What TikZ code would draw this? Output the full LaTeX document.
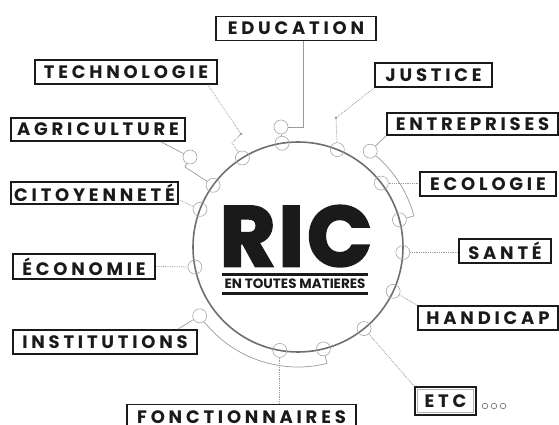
\documentclass[tikz,border=0pt]{standalone}
\usepackage{fontspec}
\setmainfont{Poppins}
\newfontfamily\boxfont[LetterSpace=21]{Poppins}
\newfontfamily\ricfont[LetterSpace=4,BoldFeatures={FakeBold=3}]{Poppins}
\usetikzlibrary{calc,positioning}
\definecolor{ink}{HTML}{1A1A1A}
\definecolor{ringgrey}{HTML}{6F6F6F}
\definecolor{linkgrey}{HTML}{9A9A9A}

\begin{document}
\begin{tikzpicture}[x=1pt,y=1pt]

\tikzset{topicbox/.style={draw=ink,line width=1.6pt,inner sep=0pt,minimum height=24pt,font=\boxfont\bfseries\fontsize{18}{18}\selectfont,text=ink},
ringnode/.style={shape=circle,draw=black!35,line width=0.6pt,inner sep=0pt,minimum size=14pt},
dotnode/.style={shape=circle,fill=linkgrey,inner sep=0pt,minimum size=3pt},
link/.style={draw=linkgrey,line width=0.7pt},
dotlink/.style={draw=linkgrey,line width=0.8pt,densely dotted}}

\useasboundingbox (0,0) rectangle (559,425);

% Ring and title
\node[shape=circle,draw=ringgrey,line width=1.6pt,minimum size=210pt,inner sep=0pt] (ring) at (298,178) {};
\node[anchor=base,font=\ricfont\bfseries\fontsize{85}{85}\selectfont,text=ink,inner sep=0pt] (ric) at (296,159) {RIC};
\node[anchor=base,font=\bfseries\fontsize{13.5}{13.5}\selectfont,text=ink,inner sep=0pt] (sub) at (295,136.5) {EN TOUTES MATIERES};
\draw[ink,line width=3pt] (222,150) -- (368,150);
\draw[ink,line width=3pt] (222,131) -- (368,131);

% circles on the ring
\foreach \n/\a in {Edu/98.7,Tech/122,Agri/144,Cito/159,Eco/191,Fonc/260,Inst/284,Etc/309,Handi/335,Sante/357,Entr/15,Ecol/37.5,Just/68}
  \node[ringnode] (c\n) at ($(ring)+(\a:105)$) {};

% circles off the ring
\node[ringnode] (offEdu) at (281,298) {};
\node[ringnode] (offAgri) at (190,268) {};
\node[ringnode] (offInst) at ($(ring)+(215:120)$) {};
\node[ringnode] (offEntr) at ($(ring)+(53:120)$) {};

% bend points
\node[dotnode] (dotTech) at (241,291) {};
\node[dotnode] (dotJust) at (336,307) {};
\coordinate (bendTech) at (232,282);
\coordinate (bendAgri) at (185,258);

% Boxes
\node[topicbox,minimum width=160pt] (edu) at (296,396.5) {EDUCATION};
\node[topicbox,minimum width=182pt] (tech) at (126,353) {TECHNOLOGIE};
\node[topicbox,minimum width=174pt,minimum height=23pt] (agri) at (98,295.5) {AGRICULTURE};
\node[topicbox,minimum width=167pt,minimum height=22pt] (cito) at (94.5,232) {CITOYENNETÉ};
\node[topicbox,minimum width=142pt,minimum height=25pt] (eco) at (84,158.5) {ÉCONOMIE};
\node[topicbox,minimum width=184pt] (inst) at (105,83) {INSTITUTIONS};
\node[topicbox,minimum width=229pt,minimum height=25pt] (fonc) at (241.5,8) {FONCTIONNAIRES};
\node[topicbox,minimum width=117pt] (just) at (433.5,350) {JUSTICE};
\node[topicbox,minimum width=171pt,minimum height=22pt] (entr) at (472.5,301) {ENTREPRISES};
\node[topicbox,minimum width=136pt] (ecol) at (488,241) {ECOLOGIE};
\node[topicbox,minimum width=92pt] (sante) at (505,174) {SANTÉ};
\node[topicbox,minimum width=140pt] (handi) at (488,107) {HANDICAP};
\node[topicbox,minimum width=61pt,minimum height=28pt] (etc) at (445.5,24) {ETC};
\draw[black!30,line width=0.8pt] ($(etc.south west)+(3.5,3.5)$) rectangle ($(etc.north east)+(-3.5,-3.5)$);
\foreach \x in {485,494,503} \draw[black!60,line width=0.6pt] (\x,19) circle[radius=2.8pt];

% Connectors
\draw[link] ($(edu.south)+(7,0)$) |- (offEdu);
\draw[link] (offEdu) -- (cEdu);
\draw[dotlink] ($(tech.south east)+(-10,0)$) -- (dotTech) -- (bendTech) -- (cTech);
\draw[link] ($(agri.south east)+(-25,0)$) -- (offAgri);
\draw[link] (offAgri) -- (bendAgri) -- (cAgri);
\draw[dotlink] ($(cito.south east)+(0,5)$) -- (cCito);
\draw[dotlink] (eco.east) -- (cEco);
\draw[link] ($(inst.north east)+(-20,0)$) -- (offInst);
\coordinate (instStart) at ($(ring)+(218.5:120)$);
\draw[link] (instStart) arc[start angle=218.5,end angle=284,radius=120] -- (cInst);
\draw[dotlink] (cFonc) -- (cFonc |- fonc.north);
\draw[dotlink] (etc.north west) -- (cEtc);
\draw[dotlink] (handi.north west) -- (cHandi);
\draw[dotlink] (cSante) -- (cSante -| sante.west);
\draw[dotlink] (cEcol) -- (cEcol -| ecol.west);
\draw[link] (entr.south west) -- (offEntr);
\coordinate (entrStart) at ($(ring)+(49.5:120)$);
\draw[link] (entrStart) arc[start angle=49.5,end angle=15,radius=120] -- (cEntr);
\draw[dotlink] (just.south west) -- (dotJust) -- (cJust);

\end{tikzpicture}
\end{document}
